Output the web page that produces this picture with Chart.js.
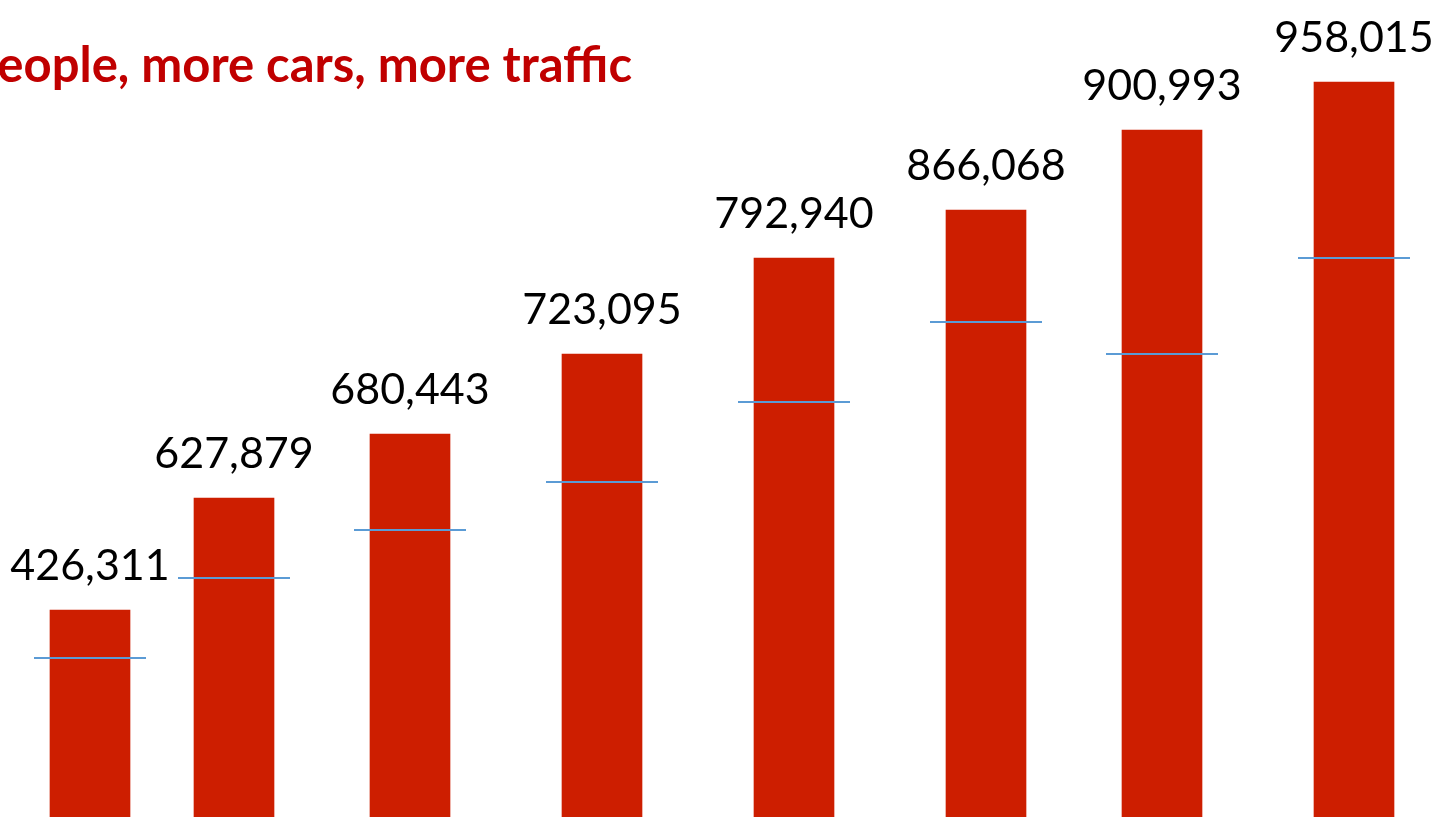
<!DOCTYPE html>
<html>
<head>
<meta charset="utf-8">
<script src="https://cdn.jsdelivr.net/npm/chart.js@4/dist/chart.umd.min.js"></script>
<style>
  html, body { margin: 0; padding: 0; background: #fff; overflow: hidden; }
  #wrap { position: relative; width: 1448px; height: 817px; }
</style>
</head>
<body>
<div id="wrap"><canvas id="chartTraffic"></canvas></div>
<script>
// dados (alturas em milhares, escala do slide)
const titleText = 'eople, more cars, more traffic';
const slots = [0, 9, 20, 32, 44, 56, 67, 79];
const valueLabels = ['426,311', '627,879', '680,443', '723,095', '792,940', '866,068', '900,993', '958,015'];
const barHeights = [426.3, 539.1, 603.5, 684.1, 780.8, 829.1, 909.7, 958.0];
const markerLevels = [378.0, 458.5, 506.9, 555.2, 635.8, 716.3, 684.1, 780.8];

const barPoints = slots.map((s, i) => ({ x: s, y: barHeights[i] }));
const markerPoints = slots.map((s, i) => ({ x: s, y: markerLevels[i] }));

/**
 * Rótulos acima das barras + título cortado
 */
const labelsPlugin = {
    id: 'labelsPlugin',
    afterDatasetsDraw(chart) {
        const ctx = chart.ctx;
        const meta = chart.getDatasetMeta(1);
        ctx.save();
        ctx.fillStyle = '#000';
        ctx.font = '43px Lato';
        ctx.textAlign = 'center';
        ctx.textBaseline = 'alphabetic';
        meta.data.forEach((bar, i) => {
            ctx.fillText(valueLabels[i], bar.x, bar.y - 30);
        });

        ctx.fillStyle = '#C00000';
        ctx.font = 'bold 49px Lato';
        ctx.textAlign = 'right';
        ctx.fillText(titleText, 632, 82);
        ctx.restore();
    }
};

const ctx = document.getElementById('chartTraffic').getContext('2d');
const chart = new Chart(ctx, {
    type: 'bar',
    data: {
        datasets: [
            {
                type: 'line',
                label: 'markers',
                data: markerPoints,
                showLine: false,
                pointStyle: 'line',
                pointRadius: 56,
                pointBorderWidth: 2,
                borderColor: '#5B9BD5',
                order: 0,
            },
            {
                label: 'total',
                data: barPoints,
                backgroundColor: '#CD1E00',
                barThickness: 80,
                order: 1,
            }
        ]
    },
    options: {
        responsive: true,
        maintainAspectRatio: false,
        animation: false,
        layout: { padding: 0, autoPadding: false },
        plugins: {
            legend: { display: false },
            title: { display: false },
            tooltip: { enabled: false }
        },
        scales: {
            x: { type: 'linear', display: false, offset: false, min: -5.625, max: 84.875 },
            y: { display: false, min: 217.9, max: 1040.6 }
        }
    },
    plugins: [labelsPlugin]
});
</script>
</body>
</html>
